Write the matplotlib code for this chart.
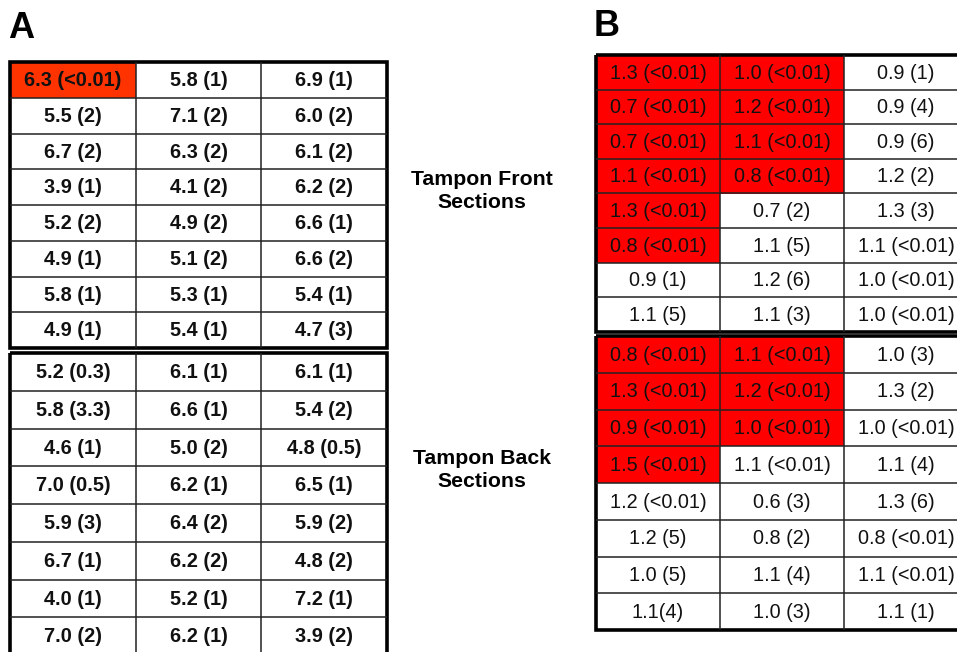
import numpy as np
import matplotlib.pyplot as plt
from matplotlib.patches import Rectangle

plt.rcParams['font.family'] = ['Liberation Sans', 'DejaVu Sans']

# Panel A: mean values (SD) per section, 8 rows x 3 columns
a_front = [
    ['6.3 (<0.01)', '5.8 (1)', '6.9 (1)'],
    ['5.5 (2)', '7.1 (2)', '6.0 (2)'],
    ['6.7 (2)', '6.3 (2)', '6.1 (2)'],
    ['3.9 (1)', '4.1 (2)', '6.2 (2)'],
    ['5.2 (2)', '4.9 (2)', '6.6 (1)'],
    ['4.9 (1)', '5.1 (2)', '6.6 (2)'],
    ['5.8 (1)', '5.3 (1)', '5.4 (1)'],
    ['4.9 (1)', '5.4 (1)', '4.7 (3)'],
]
a_back = [
    ['5.2 (0.3)', '6.1 (1)', '6.1 (1)'],
    ['5.8 (3.3)', '6.6 (1)', '5.4 (2)'],
    ['4.6 (1)', '5.0 (2)', '4.8 (0.5)'],
    ['7.0 (0.5)', '6.2 (1)', '6.5 (1)'],
    ['5.9 (3)', '6.4 (2)', '5.9 (2)'],
    ['6.7 (1)', '6.2 (2)', '4.8 (2)'],
    ['4.0 (1)', '5.2 (1)', '7.2 (1)'],
    ['7.0 (2)', '6.2 (1)', '3.9 (2)'],
]
# number of highlighted cells from the left, per row
a_front_hl = [1, 0, 0, 0, 0, 0, 0, 0]
a_back_hl = [0, 0, 0, 0, 0, 0, 0, 0]

# Panel B
b_front = [
    ['1.3 (<0.01)', '1.0 (<0.01)', '0.9 (1)'],
    ['0.7 (<0.01)', '1.2 (<0.01)', '0.9 (4)'],
    ['0.7 (<0.01)', '1.1 (<0.01)', '0.9 (6)'],
    ['1.1 (<0.01)', '0.8 (<0.01)', '1.2 (2)'],
    ['1.3 (<0.01)', '0.7 (2)', '1.3 (3)'],
    ['0.8 (<0.01)', '1.1 (5)', '1.1 (<0.01)'],
    ['0.9 (1)', '1.2 (6)', '1.0 (<0.01)'],
    ['1.1 (5)', '1.1 (3)', '1.0 (<0.01)'],
]
b_back = [
    ['0.8 (<0.01)', '1.1 (<0.01)', '1.0 (3)'],
    ['1.3 (<0.01)', '1.2 (<0.01)', '1.3 (2)'],
    ['0.9 (<0.01)', '1.0 (<0.01)', '1.0 (<0.01)'],
    ['1.5 (<0.01)', '1.1 (<0.01)', '1.1 (4)'],
    ['1.2 (<0.01)', '0.6 (3)', '1.3 (6)'],
    ['1.2 (5)', '0.8 (2)', '0.8 (<0.01)'],
    ['1.0 (5)', '1.1 (4)', '1.1 (<0.01)'],
    ['1.1(4)', '1.0 (3)', '1.1 (1)'],
]
b_front_hl = [2, 2, 2, 2, 1, 1, 0, 0]
b_back_hl = [2, 2, 2, 1, 0, 0, 0, 0]

section_labels = ['Tampon Front\nSections', 'Tampon Back\nSections']

W, H = 957, 652
fig = plt.figure(figsize=(W / 100, H / 100), dpi=100)


def add_box(x0, y0, x1, y1):
    # pixel box -> figure fraction axes
    ax = fig.add_axes([x0 / W, 1 - y1 / H, (x1 - x0) / W, (y1 - y0) / H])
    ax.set_axis_off()
    return ax


def draw_table(ax, labels, hl, color, weight, size):
    nrow, ncol = len(labels), len(labels[0])
    ax.set_xlim(0, ncol)
    ax.set_ylim(nrow, 0)
    for r in range(nrow):
        for c in range(ncol):
            fc = color if c < hl[r] else 'white'
            ax.add_patch(Rectangle((c, r), 1, 1, facecolor=fc, edgecolor='none'))
            ax.text(c + 0.5, r + 0.52, labels[r][c], ha='center', va='center',
                    fontsize=size, fontweight=weight, color='#111111')
    ax.hlines(np.arange(1, nrow), 0, ncol, color='#222222', lw=1.1)
    ax.vlines(np.arange(1, ncol), 0, nrow, color='#222222', lw=1.1)
    ax.add_patch(Rectangle((0, 0), ncol, nrow, facecolor='none',
                           edgecolor='black', lw=2.6, clip_on=False))


draw_table(add_box(10, 62, 387, 348), a_front, a_front_hl, '#FF3300', 'bold', 14.3)
draw_table(add_box(10, 353, 387, 655), a_back, a_back_hl, '#FF3300', 'bold', 14.3)
# panel B runs past the right edge of the picture, as in the source
draw_table(add_box(596, 55, 968, 332), b_front, b_front_hl, '#FF0000', 'normal', 14.3)
draw_table(add_box(596, 336, 968, 630), b_back, b_back_hl, '#FF0000', 'normal', 14.3)

fig.text(482 / W, 1 - 191 / H, section_labels[0], ha='center', va='center',
         fontsize=15.3, fontweight='bold', linespacing=1.25)
fig.text(482 / W, 1 - 470 / H, section_labels[1], ha='center', va='center',
         fontsize=15.3, fontweight='bold', linespacing=1.25)

fig.text(8 / W, 1 - 29 / H, 'A', ha='left', va='center', fontsize=26, fontweight='bold')
fig.text(594 / W, 1 - 27 / H, 'B', ha='left', va='center', fontsize=26, fontweight='bold')

fig.savefig('out.png', dpi=100, facecolor='white')
